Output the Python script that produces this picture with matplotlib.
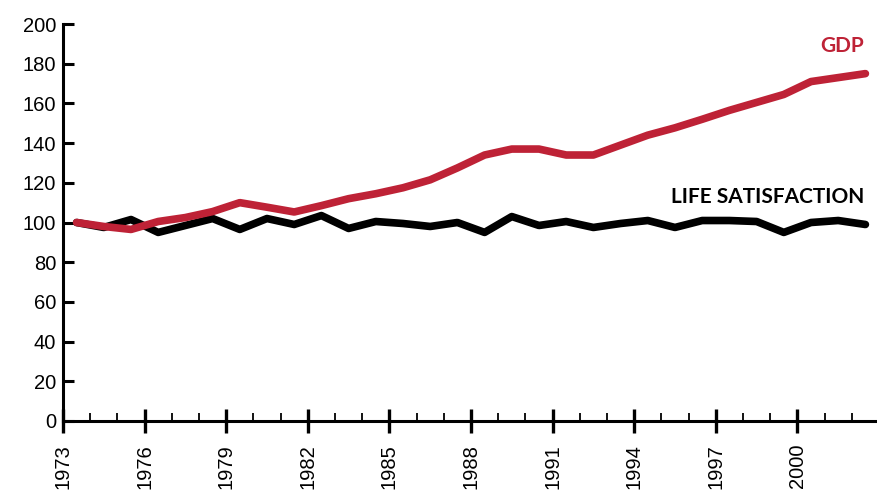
import numpy as np
import matplotlib.pyplot as plt
from matplotlib.ticker import MultipleLocator

years = np.arange(1973, 2003)
gdp = [100, 98, 96.5, 100.5, 102.5, 105.5, 110, 107.7, 105.3, 108.5,
       112, 114.5, 117.5, 121.5, 127.5, 134, 137, 137, 134, 134,
       139, 144, 147.7, 152, 156.5, 160.5, 164.5, 171, 173, 175]
life_sat = [100, 97.5, 101.5, 95, 98.5, 102, 96.5, 102, 99, 103.5,
            97, 100.5, 99.5, 98, 100, 95, 103, 98.5, 100.5, 97.5,
            99.5, 101, 97.5, 101, 101, 100.5, 95, 100, 101, 99]
xtick_years = np.arange(1973, 2001, 3)

red = '#be2236'
plt.rcParams['font.family'] = ['Liberation Sans', 'DejaVu Sans']

fig = plt.figure(figsize=(8.77, 4.92), dpi=100)
ax = fig.add_axes([63 / 877, 71 / 492, 816 / 877, 397 / 492])

# values are yearly, drawn in the middle of each year slot
ax.plot(years + 0.5, life_sat, color='black', lw=5.5, solid_capstyle='round', zorder=2)
ax.plot(years + 0.5, gdp, color=red, lw=5.5, solid_capstyle='round', zorder=3)

ax.set_xlim(1973, 2003)
ax.set_ylim(0, 200)
ax.set_yticks(np.arange(0, 201, 20))
ax.set_xticks(xtick_years)
ax.set_xticklabels([str(y) for y in xtick_years], rotation=90, va='top')
ax.xaxis.set_minor_locator(MultipleLocator(1))

for s in ['top', 'right']:
    ax.spines[s].set_visible(False)
for s in ['left', 'bottom']:
    ax.spines[s].set_linewidth(2.2)

ax.tick_params(axis='y', direction='in', length=8, width=2.2, labelsize=14.5, pad=5)
ax.tick_params(axis='x', which='major', direction='inout', length=17, width=2.4, labelsize=14.5, pad=8)
ax.tick_params(axis='x', which='minor', direction='in', length=6, width=1.3)

ax.text(2002.45, 189, 'GDP', color=red, ha='right', va='center',
        fontsize=15, fontweight='bold', family=['Lato', 'DejaVu Sans'])
ax.text(2002.45, 113, 'LIFE SATISFACTION', color='black', ha='right', va='center',
        fontsize=15, fontweight='bold', family=['Lato', 'DejaVu Sans'])

fig.savefig('out.png', dpi=100)
